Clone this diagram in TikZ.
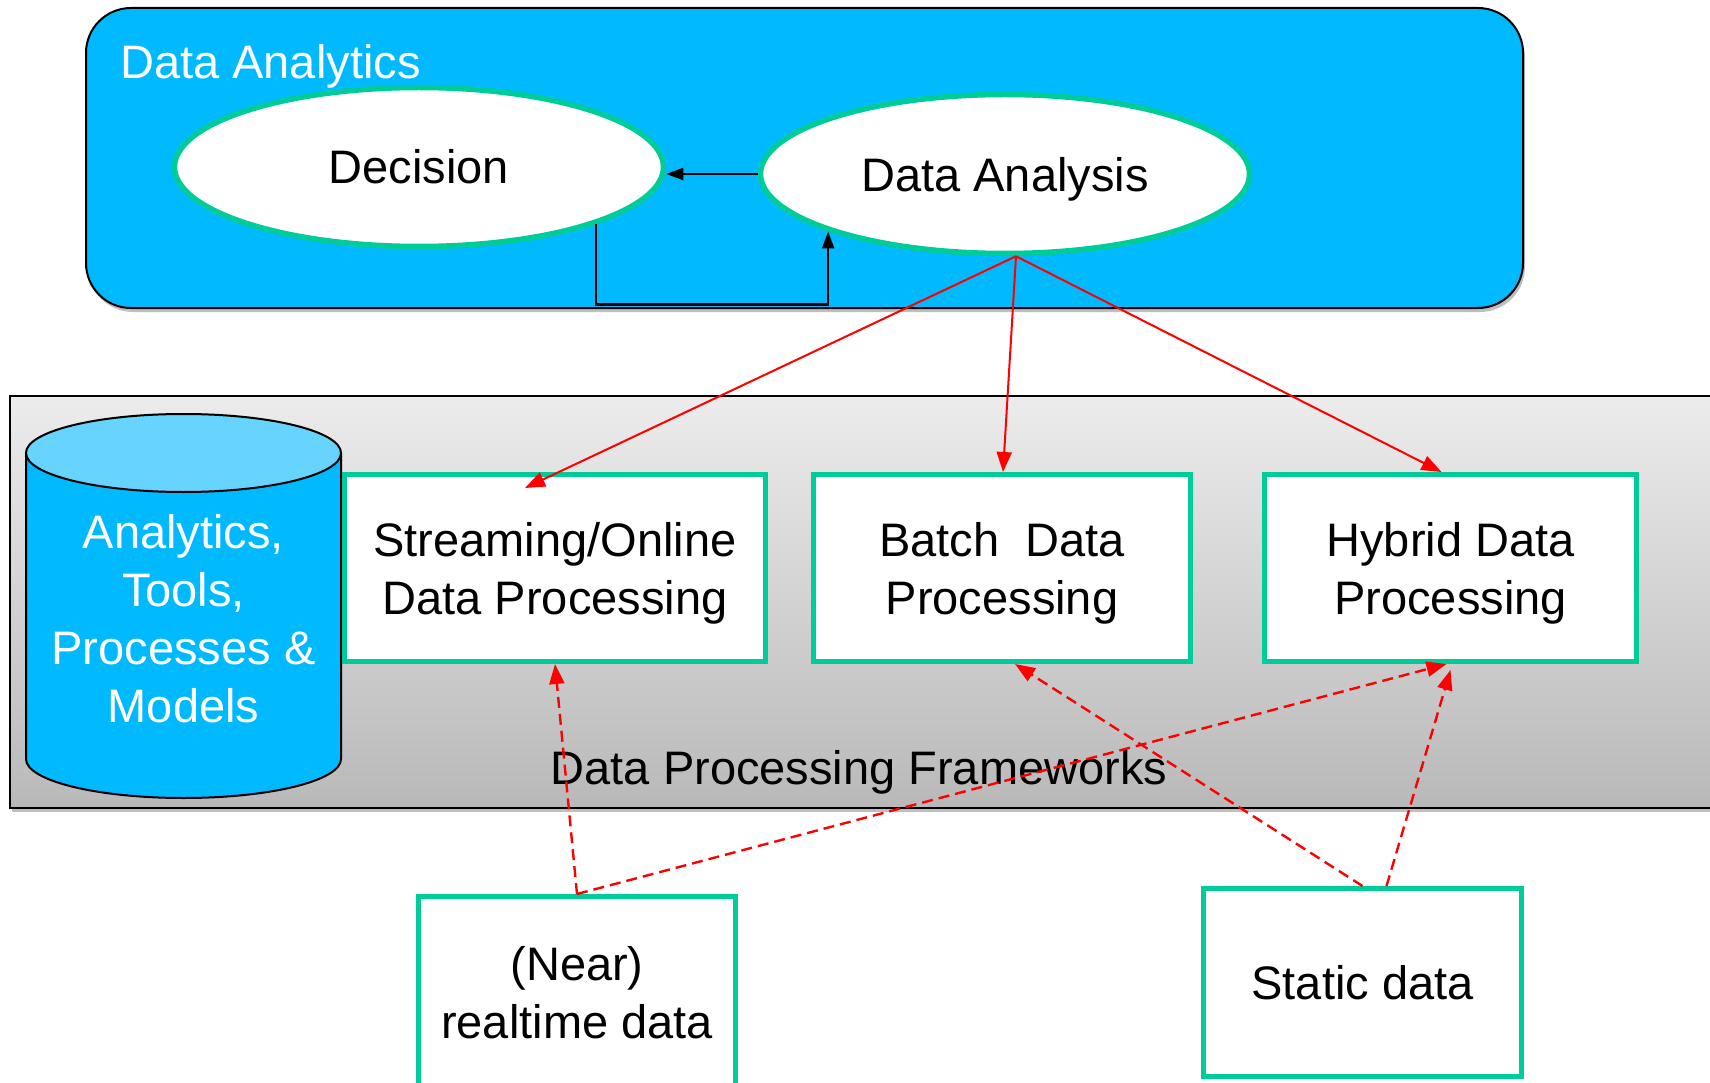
\documentclass[tikz,border=0pt]{standalone}
\usepackage{fontspec}
\setmainfont{Liberation Sans}
\usetikzlibrary{arrows.meta,shapes.geometric,calc,shadows}
\definecolor{tealbd}{RGB}{0,204,153}
\definecolor{sky}{RGB}{0,185,255}
\definecolor{skylight}{RGB}{102,212,255}
\begin{document}
\begin{tikzpicture}[x=1pt,y=-1pt,
  txt/.style={font=\fontsize{47}{58}\selectfont, align=center},
  ell/.style={ellipse, draw=tealbd, line width=5.5pt, fill=white, txt, minimum width=489pt, minimum height=159pt, inner sep=0pt},
  pbox/.style={rectangle, draw=tealbd, line width=5pt, fill=white, inner sep=0pt},
  redarr/.style={draw=red, line width=2pt, -{Triangle[length=20pt,width=15pt]}},
  reddash/.style={redarr, line width=2.4pt, dash pattern=on 11pt off 6pt},
  blkarr/.style={draw=black, line width=2.2pt, -{Triangle[length=17pt,width=12pt]}},
  softshadow/.style={drop shadow={shadow xshift=2pt, shadow yshift=-4pt, fill=black, opacity=0.25}}
]
\useasboundingbox (0,0) rectangle (1710,1083);
\clip (0,0) rectangle (1710,1083);

% Data Analytics container
\node[draw=black, line width=2pt, fill=sky, rounded corners=45pt, minimum width=1437pt, minimum height=300pt, inner sep=0pt, softshadow] (analytics) at (804.5,158) {};
\node[txt, text=white, anchor=base west, inner sep=0pt] (analyticslabel) at (120,79) {Data Analytics};

\node[ell] (dec) at (419,167) {Decision};
\node[ell, text depth=0pt] (da) at (1005,174) {Data Analysis};

% Frameworks frame
\node[draw=black, line width=2.5pt, top color=gray!15, bottom color=gray!55, minimum width=1710pt, minimum height=412pt, inner sep=0pt, softshadow] (frame) at (865,602) {};
\node[txt, inner sep=0pt] (fwlabel) at (859,772) {Data Processing Frameworks};

% Cylinder
\fill[sky] (26,453) -- (26,759) arc[start angle=180,end angle=360,x radius=157.5pt,y radius=39pt] -- (341,453) -- cycle;
\draw[line width=2pt] (26,453) -- (26,759) arc[start angle=180,end angle=360,x radius=157.5pt,y radius=39pt] -- (341,453);
\draw[line width=2pt, fill=skylight] (183.5,453) ellipse[x radius=157.5pt, y radius=39pt];
\node[txt, text=white, inner sep=0pt] (cyl) at (183.5,619) {Analytics,\\Tools,\\Processes \&\\Models};

% Processing boxes
\node[pbox, minimum width=421pt, minimum height=187pt] (stream) at (555,568) {};
\node[pbox, minimum width=377pt, minimum height=187pt] (batch) at (1002,568) {};
\node[pbox, minimum width=372pt, minimum height=187pt] (hybrid) at (1450.5,568) {};
\node[pbox, minimum width=317pt, minimum height=198pt] (near) at (577,995.5) {};
\node[pbox, minimum width=318pt, minimum height=188pt] (static) at (1362.5,982.5) {};

\node[txt, inner sep=0pt] (streamtext) at ($(stream.center)+(0,5)$) {Streaming/Online\\Data Processing};
\node[txt, inner sep=0pt] (batchtext) at ($(batch.center)+(0,5)$) {Batch\ \ Data\\Processing};
\node[txt, inner sep=0pt] (hybridtext) at ($(hybrid.center)+(0,5)$) {Hybrid Data\\Processing};
\node[txt, inner sep=0pt] (neartext) at ($(near.center)+(0,-3)$) {(Near)\\realtime data};
\node[txt, inner sep=0pt] (statictext) at (static.center) {Static data};

% Black arrows
\draw[blkarr] (da.west) -- (da.west -| dec.east);
\draw[blkarr] (dec.-18) -- ++(0,80) -| (da.198.7);

% Red solid arrows
\draw[redarr] ($(da.south)+(11,0)$) -- ($(stream.north)+(-30,16)$);
\draw[redarr] ($(da.south)+(11,0)$) -- ($(batch.north)+(1,0)$);
\draw[redarr] ($(da.south)+(11,0)$) -- ($(hybrid.north)+(-9,0)$);

% Red dashed arrows
\draw[reddash] (near.north) -- (stream.south);
\draw[reddash] (near.north) -- ($(hybrid.south)+(-4,0)$);
\draw[reddash] (static.north) -- ($(batch.south)+(13,0)$);
\draw[reddash] ($(static.north)+(24,0)$) -- ($(hybrid.south)+(0,6)$);
\end{tikzpicture}
\end{document}
